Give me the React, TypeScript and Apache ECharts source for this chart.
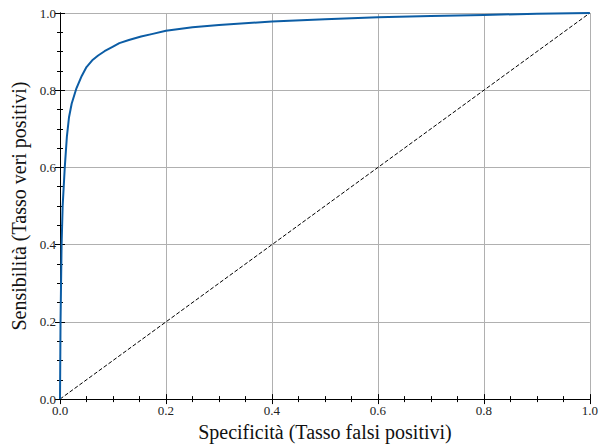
import React, { useEffect, useRef } from "react";
import * as echarts from "echarts";

const fpr = [0, 0.0005, 0.001, 0.002, 0.003, 0.005, 0.009, 0.013, 0.017, 0.022, 0.031, 0.041, 0.05, 0.062, 0.072, 0.084, 0.1, 0.112, 0.13, 0.153, 0.175, 0.2, 0.25, 0.3, 0.4, 0.5, 0.6, 0.7, 0.8, 0.9, 1];
const tpr = [0, 0.1, 0.2, 0.3, 0.4, 0.5, 0.6, 0.68, 0.73, 0.765, 0.805, 0.837, 0.86, 0.879, 0.89, 0.901, 0.913, 0.922, 0.93, 0.939, 0.946, 0.954, 0.963, 0.969, 0.978, 0.984, 0.989, 0.992, 0.995, 0.998, 1];
const diagX = [0, 1];
const diagY = [0, 1];
const xName = "Specificità (Tasso falsi positivi)";
const yName = "Sensibilità (Tasso veri positivi)";

const FONT = "Liberation Serif";

export default function App() {
  const ref = useRef<HTMLDivElement>(null);
  useEffect(() => {
    const chart = echarts.init(ref.current!, null, { renderer: "svg" });
    const base = {
      min: 0,
      max: 1,
      interval: 0.2,
      type: "value" as const,
      axisLine: { show: true, lineStyle: { color: "#000", width: 1 } },
      axisTick: { show: true, inside: true, length: 5, lineStyle: { color: "#000" } },
      minorTick: { show: true, splitNumber: 4, length: 3, lineStyle: { color: "#000" } },
    };
    const label = {
      fontFamily: FONT,
      fontSize: 13,
      color: "#222",
      formatter: (v: number) => v.toFixed(1),
    };
    chart.setOption({
      animation: false,
      grid: { left: 60, top: 13, width: 535, height: 390, containLabel: false },
      xAxis: [
        {
          ...base,
          position: "bottom",
          axisLabel: { ...label, margin: 5 },
          splitLine: { show: true, lineStyle: { color: "#b0b0b0", width: 1 } },
          name: xName,
          nameLocation: "middle",
          nameGap: 21,
          nameTextStyle: { fontFamily: FONT, fontSize: 20, color: "#111" },
        },
        {
          ...base,
          position: "top",
          axisLabel: { show: false },
          splitLine: { show: false },
        },
      ],
      yAxis: [
        {
          ...base,
          position: "left",
          axisLabel: { ...label, margin: 4 },
          splitLine: { show: true, lineStyle: { color: "#b0b0b0", width: 1 } },
          name: yName,
          nameLocation: "middle",
          nameGap: 31,
          nameTextStyle: { fontFamily: FONT, fontSize: 20, color: "#111" },
        },
        {
          ...base,
          position: "right",
          axisLabel: { show: false },
          splitLine: { show: false },
        },
      ],
      series: [
        {
          type: "line",
          data: diagX.map((x, i) => [x, diagY[i]]),
          showSymbol: false,
          lineStyle: { color: "#000", width: 1, type: [4, 2] },
          z: 2,
        },
        {
          type: "line",
          data: fpr.map((x, i) => [x, tpr[i]]),
          showSymbol: false,
          lineStyle: { color: "#0C5DA5", width: 2 },
          z: 3,
        },
      ],
    });
    return () => chart.dispose();
  }, []);
  return (
    <div
      ref={ref}
      style={{ position: "fixed", left: 0, top: 0, width: 601, height: 447, background: "#fff" }}
    />
  );
}
